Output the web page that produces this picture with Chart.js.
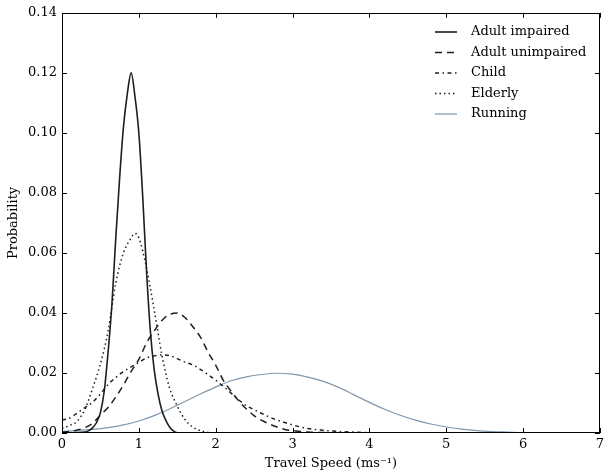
<!DOCTYPE html>
<html>
<head>
<meta charset="utf-8">
<script src="https://cdn.jsdelivr.net/npm/chart.js@4.4.0/dist/chart.umd.min.js"></script>
<style>
  body { margin: 0; background: #fff; }
  #wrap { width: 608px; height: 472px; }
</style>
</head>
<body>
<div id="wrap"><canvas id="speedChart" width="608" height="472"></canvas></div>
<script>
// values (x = travel speed, y = probability)
var impairedX = [0, 0.30, 0.35, 0.40, 0.45, 0.50, 0.55, 0.60, 0.65, 0.70, 0.75, 0.80, 0.85, 0.90,
                 0.95, 1.00, 1.05, 1.10, 1.15, 1.20, 1.25, 1.30, 1.35, 1.40, 1.45, 1.50, 1.60, 7];
var impairedY = [0, 0.0003, 0.0008, 0.0018, 0.0035, 0.0068, 0.014, 0.027, 0.043, 0.065, 0.085, 0.102, 0.113, 0.120,
                 0.112, 0.100, 0.079, 0.054, 0.034, 0.021, 0.013, 0.0075, 0.0043, 0.002, 0.0007, 0.0001, 0, 0];

var unimpairedX = [0, 0.1, 0.2, 0.3, 0.4, 0.5, 0.6, 0.7, 0.8, 0.9, 1.0, 1.1, 1.2, 1.3, 1.4, 1.5, 1.6, 1.7, 1.8, 1.9,
                   2.0, 2.1, 2.2, 2.3, 2.4, 2.5, 2.6, 2.7, 2.8, 2.9, 3.0, 3.2, 3.5, 4.0, 7];
var unimpairedY = [0.0003, 0.0005, 0.001, 0.0018, 0.0033, 0.006, 0.0085, 0.012, 0.016, 0.0205, 0.0245, 0.030, 0.034,
                   0.0375, 0.0395, 0.040, 0.0385, 0.0355, 0.032, 0.027, 0.0226, 0.0175, 0.014, 0.0107, 0.008, 0.0058,
                   0.0042, 0.003, 0.002, 0.0012, 0.0008, 0.0003, 0.0001, 0, 0];

var childX = [0, 0.1, 0.2, 0.3, 0.4, 0.5, 0.6, 0.7, 0.8, 0.9, 1.0, 1.1, 1.2, 1.3, 1.4, 1.5, 1.6, 1.7, 1.8, 1.9,
              2.0, 2.1, 2.2, 2.3, 2.4, 2.5, 2.6, 2.7, 2.8, 2.9, 3.0, 3.2, 3.4, 3.6, 3.8, 4.0, 4.5, 7];
var childY = [0.0043, 0.005, 0.0067, 0.0085, 0.0103, 0.013, 0.0162, 0.0185, 0.0205, 0.022, 0.0235, 0.025, 0.0257,
              0.026, 0.0258, 0.0248, 0.0236, 0.0227, 0.0212, 0.0195, 0.0176, 0.0155, 0.0133, 0.011, 0.0091, 0.0078,
              0.0065, 0.0053, 0.0043, 0.0035, 0.0027, 0.0015, 0.0009, 0.0005, 0.0003, 0.0001, 0, 0];

var elderlyX = [0, 0.1, 0.2, 0.3, 0.4, 0.5, 0.6, 0.7, 0.8, 0.9, 0.95, 1.0, 1.1, 1.2, 1.3, 1.4, 1.5, 1.6, 1.7, 1.8, 1.9, 2.0, 7];
var elderlyY = [0.0015, 0.0025, 0.004, 0.008, 0.015, 0.023, 0.034, 0.050, 0.060, 0.065, 0.0665, 0.065, 0.055, 0.041,
                0.026, 0.015, 0.009, 0.0045, 0.002, 0.0008, 0.0002, 0, 0];

var runningX = [0, 0.2, 0.4, 0.6, 0.8, 1.0, 1.2, 1.4, 1.6, 1.8, 2.0, 2.2, 2.4, 2.6, 2.8, 3.0, 3.2, 3.4, 3.6, 3.8,
                4.0, 4.2, 4.4, 4.6, 4.8, 5.0, 5.2, 5.4, 5.6, 5.8, 6.0, 6.5, 7];
var runningY = [0.0005, 0.0008, 0.0012, 0.0018, 0.0027, 0.004, 0.0058, 0.008, 0.0105, 0.013, 0.0153, 0.0174,
                0.0187, 0.0195, 0.0199, 0.0196, 0.0186, 0.0172, 0.0152, 0.0127, 0.0102, 0.0079, 0.0059, 0.0043,
                0.003, 0.002, 0.0013, 0.0008, 0.0005, 0.0003, 0.0001, 0, 0];

var seriesNames = ['Adult impaired', 'Adult unimpaired', 'Child', 'Elderly', 'Running'];
var xTickValues = [0, 1, 2, 3, 4, 5, 6, 7];

function pts(xs, ys) {
    return xs.map(function (v, i) { return { x: v, y: ys[i] }; });
}

// matplotlib-like box with inward ticks
var frameTicks = {
    id: 'frameTicks',
    afterDraw: function (chart) {
        var ctx = chart.ctx, a = chart.chartArea;
        var xs = chart.scales.x, ys = chart.scales.y;
        ctx.save();
        ctx.strokeStyle = '#000';
        ctx.lineWidth = 1;
        ctx.strokeRect(Math.round(a.left) + 0.5, Math.round(a.top) + 0.5,
            Math.round(a.right - a.left) - 1, Math.round(a.bottom - a.top) - 1);
        ctx.beginPath();
        xs.ticks.forEach(function (t) {
            var p = Math.round(xs.getPixelForValue(t.value)) + 0.5;
            ctx.moveTo(p, a.bottom); ctx.lineTo(p, a.bottom - 5);
            ctx.moveTo(p, a.top); ctx.lineTo(p, a.top + 5);
        });
        ys.ticks.forEach(function (t) {
            var p = Math.round(ys.getPixelForValue(t.value)) + 0.5;
            ctx.moveTo(a.left, p); ctx.lineTo(a.left + 5, p);
            ctx.moveTo(a.right, p); ctx.lineTo(a.right - 5, p);
        });
        ctx.stroke();
        ctx.restore();
    }
};

// legend drawn inside the plot, top right, no frame
var innerLegend = {
    id: 'innerLegend',
    afterDraw: function (chart) {
        var ctx = chart.ctx;
        ctx.save();
        ctx.font = '13px "DejaVu Serif"';
        ctx.textBaseline = 'middle';
        ctx.fillStyle = '#000';
        chart.data.datasets.forEach(function (ds, i) {
            var yy = 32 + i * 20.5;
            ctx.beginPath();
            ctx.strokeStyle = ds.borderColor;
            ctx.lineWidth = ds.borderWidth;
            ctx.setLineDash(ds.borderDash || []);
            ctx.moveTo(435, yy);
            ctx.lineTo(457, yy);
            ctx.stroke();
            ctx.fillText(ds.label, 471, yy);
        });
        ctx.restore();
    }
};

var ctx = document.getElementById('speedChart').getContext('2d');
Chart.defaults.font.family = '"DejaVu Serif", serif';
Chart.defaults.font.size = 13;
Chart.defaults.color = '#000';

var speedChart = new Chart(ctx, {
    type: 'line',
    data: {
        datasets: [
            { label: seriesNames[0], data: pts(impairedX, impairedY), borderColor: '#1e1e1e', borderWidth: 1.6, cubicInterpolationMode: 'monotone' },
            { label: seriesNames[1], data: pts(unimpairedX, unimpairedY), borderColor: '#1e1e1e', borderWidth: 1.5, borderDash: [7, 5], cubicInterpolationMode: 'monotone' },
            { label: seriesNames[2], data: pts(childX, childY), borderColor: '#1e1e1e', borderWidth: 1.5, borderDash: [4, 3.5, 1.5, 3.5], cubicInterpolationMode: 'monotone' },
            { label: seriesNames[3], data: pts(elderlyX, elderlyY), borderColor: '#1e1e1e', borderWidth: 1.5, borderDash: [1.5, 3], cubicInterpolationMode: 'monotone' },
            { label: seriesNames[4], data: pts(runningX, runningY), borderColor: '#7f98b0', borderWidth: 1.2, cubicInterpolationMode: 'monotone' }
        ]
    },
    options: {
        responsive: false,
        animation: false,
        devicePixelRatio: 1,
        elements: { point: { radius: 0 } },
        layout: { padding: { top: 12, right: 3, left: 0, bottom: 0 } },
        plugins: {
            legend: { display: false },
            tooltip: { enabled: false }
        },
        scales: {
            x: {
                type: 'linear',
                min: 0,
                max: 7,
                afterBuildTicks: function (scale) {
                    scale.ticks = xTickValues.map(function (v) { return { value: v }; });
                },
                afterFit: function (scale) { scale.height = 39; },
                grid: { display: false, drawTicks: false },
                border: { display: false },
                ticks: { padding: 4, maxRotation: 0, autoSkip: false },
                title: { display: true, text: 'Travel Speed (ms\u207B\u00B9)', padding: { top: 0, bottom: 1 } }
            },
            y: {
                min: 0,
                max: 0.14,
                afterFit: function (scale) { scale.width = 62; },
                grid: { display: false, drawTicks: false },
                border: { display: false },
                ticks: {
                    stepSize: 0.02,
                    padding: 5,
                    callback: function (v) { return v.toFixed(2); }
                },
                title: { display: true, text: 'Probability', padding: { top: 6, bottom: 0 } }
            }
        }
    },
    plugins: [frameTicks, innerLegend]
});
</script>
</body>
</html>
